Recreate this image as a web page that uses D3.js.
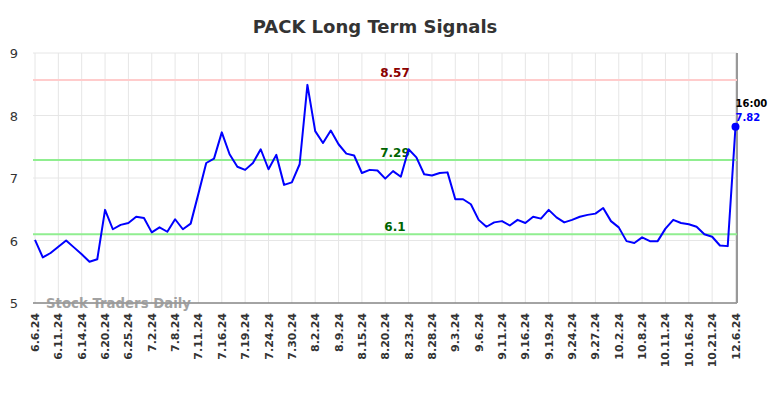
<!DOCTYPE html>
<html>
<head>
<meta charset="utf-8">
<script src="https://cdn.jsdelivr.net/npm/d3@7"></script>
<style>
  body { margin: 0; background: #fff; }
  svg { font-family: "DejaVu Sans", sans-serif; }
</style>
</head>
<body>
<svg id="chart" width="784" height="398"></svg>
<script>
(function () {
    'use strict';

    // one label every third trading day
    var tickLabels = ['6.6.24','6.11.24','6.14.24','6.20.24','6.25.24','7.2.24','7.8.24','7.11.24',
        '7.16.24','7.19.24','7.24.24','7.30.24','8.2.24','8.9.24','8.15.24','8.20.24','8.23.24',
        '8.28.24','9.3.24','9.6.24','9.11.24','9.16.24','9.19.24','9.24.24','9.27.24','10.2.24',
        '10.8.24','10.11.24','10.16.24','10.21.24','12.6.24'];

    var prices = [6.01,5.73,5.80,5.90,6.00,5.89,5.78,5.66,5.70,6.49,
                  6.18,6.25,6.28,6.38,6.36,6.13,6.21,6.14,6.34,6.18,
                  6.27,6.75,7.24,7.31,7.73,7.38,7.18,7.13,7.24,7.46,
                  7.14,7.37,6.89,6.93,7.22,8.49,7.75,7.56,7.76,7.54,
                  7.39,7.36,7.08,7.13,7.12,6.99,7.11,7.02,7.46,7.33,
                  7.06,7.04,7.08,7.09,6.66,6.66,6.58,6.33,6.22,6.29,
                  6.31,6.24,6.33,6.28,6.38,6.35,6.49,6.37,6.29,6.33,
                  6.38,6.41,6.43,6.52,6.31,6.21,5.99,5.96,6.05,5.99,
                  5.99,6.19,6.33,6.28,6.26,6.22,6.10,6.06,5.92,5.91,
                  7.82];

    var signals = [
        {value: 8.57, line: '#ffcccc', text: '#8b0000'},
        {value: 7.29, line: '#90ee90', text: '#006400'},
        {value: 6.1,  line: '#90ee90', text: '#006400'}
    ];
    var yTicks = [5, 6, 7, 8, 9];
    var lastTime = '16:00';

    var svg = d3.select('#chart');
    var width = 784, height = 398;
    var margin = {top: 53, right: 47, bottom: 95, left: 35};

    var x = d3.scaleLinear()
        .domain([0, prices.length - 1])
        .range([margin.left, width - margin.right - 1.5]);

    var y = d3.scaleLinear()
        .domain([5, 9])
        .range([height - margin.bottom, margin.top]);

    var labelIdx = tickLabels.map((d, i) => i * 3);

    // grid
    svg.append('g')
        .selectAll('line')
        .data(yTicks)
        .enter()
        .append('line')
        .attr('x1', margin.left - 2)
        .attr('x2', width - margin.right)
        .attr('y1', d => y(d))
        .attr('y2', d => y(d))
        .style('stroke', '#e6e6e6')
        .style('stroke-width', 1);

    svg.append('g')
        .selectAll('line')
        .data(labelIdx)
        .enter()
        .append('line')
        .attr('x1', d => x(d))
        .attr('x2', d => x(d))
        .attr('y1', margin.top)
        .attr('y2', height - margin.bottom)
        .style('stroke', '#e6e6e6')
        .style('stroke-width', 1);

    // y labels
    svg.append('g')
        .selectAll('text')
        .data(yTicks)
        .enter()
        .append('text')
        .attr('x', 18)
        .attr('y', d => y(d) + 5)
        .style('text-anchor', 'end')
        .style('font-size', '13px')
        .style('fill', '#333')
        .text(d => d);

    // x labels
    svg.append('g')
        .selectAll('text')
        .data(tickLabels)
        .enter()
        .append('text')
        .attr('transform', (d, i) => `translate(${x(labelIdx[i]) + 4},${height - margin.bottom + 10}) rotate(-90)`)
        .style('text-anchor', 'end')
        .style('font-size', '11px')
        .style('font-weight', 'bold')
        .style('fill', '#333')
        .text(d => d);

    // axis frame
    svg.append('line')
        .attr('x1', margin.left - 2).attr('x2', width - margin.right)
        .attr('y1', y(5)).attr('y2', y(5))
        .style('stroke', '#555').style('stroke-width', 1);
    svg.append('line')
        .attr('x1', width - margin.right).attr('x2', width - margin.right)
        .attr('y1', margin.top).attr('y2', y(5))
        .style('stroke', '#999').style('stroke-width', 2);

    // watermark
    svg.append('text')
        .attr('x', 46)
        .attr('y', height - margin.bottom + 5)
        .style('font-size', '13.3px')
        .style('font-weight', 'bold')
        .style('fill', '#999')
        .style('opacity', 0.9)
        .text('Stock Traders Daily');

    // signal lines
    svg.append('g')
        .selectAll('line')
        .data(signals)
        .enter()
        .append('line')
        .attr('x1', margin.left - 2)
        .attr('x2', width - margin.right)
        .attr('y1', d => y(d.value))
        .attr('y2', d => y(d.value))
        .style('stroke', d => d.line)
        .style('stroke-width', 2);

    svg.append('g')
        .selectAll('text')
        .data(signals)
        .enter()
        .append('text')
        .attr('x', 395)
        .attr('y', d => y(d.value) - 3)
        .style('text-anchor', 'middle')
        .style('font-size', '12px')
        .style('font-weight', 'bold')
        .style('fill', d => d.text)
        .text(d => d.value);

    // price line
    var line = d3.line()
        .x((d, i) => x(i))
        .y(d => y(d));

    svg.append('path')
        .datum(prices)
        .attr('d', line)
        .style('fill', 'none')
        .style('stroke', '#0000ff')
        .style('stroke-width', 2)
        .style('stroke-linejoin', 'round');

    var last = prices.length - 1;
    svg.append('circle')
        .attr('cx', x(last))
        .attr('cy', y(prices[last]))
        .attr('r', 4)
        .style('fill', '#0000ff');

    svg.append('text')
        .attr('x', x(last))
        .attr('y', y(prices[last]) - 20)
        .style('font-size', '10px')
        .style('font-weight', 'bold')
        .style('fill', '#000')
        .text(lastTime);

    svg.append('text')
        .attr('x', x(last))
        .attr('y', y(prices[last]) - 6)
        .style('font-size', '10px')
        .style('font-weight', 'bold')
        .style('fill', '#0000ff')
        .text(prices[last]);

    // title
    svg.append('text')
        .attr('x', 375)
        .attr('y', 33)
        .style('text-anchor', 'middle')
        .style('font-size', '18px')
        .style('font-weight', 'bold')
        .style('fill', '#333')
        .text('PACK Long Term Signals');
}());
</script>
</body>
</html>
